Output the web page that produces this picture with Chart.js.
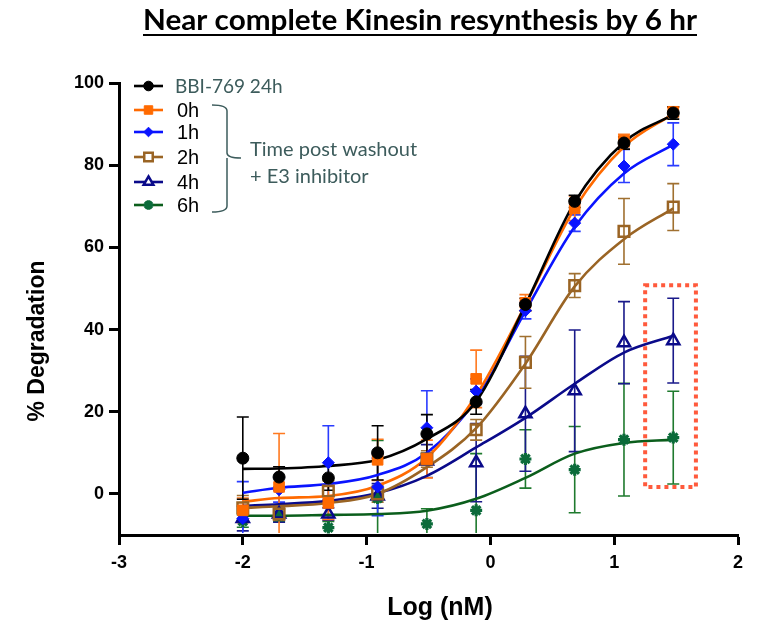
<!DOCTYPE html>
<html>
<head>
<meta charset="utf-8">
<script src="https://cdn.jsdelivr.net/npm/chart.js@4.4.1/dist/chart.umd.min.js"></script>
<style>
  html, body { margin: 0; padding: 0; background: #fff; }
</style>
</head>
<body>
<canvas id="degChart" width="764" height="630"></canvas>
<script>
// log10 of concentration (nM), 2.5-fold dilutions down from 30 nM
const logConc = [-2, -1.707, -1.309, -0.911, -0.513, -0.115, 0.283, 0.681, 1.079, 1.477];

const seriesNames = ['BBI-769 24h', '0h', '1h', '2h', '4h', '6h'];

// mean % degradation per dose
const deg24h = [8.7, 4.1, 3.9, 10.0, 14.6, 22.4, 46.1, 71.2, 85.4, 92.7];
const deg0h  = [-4.0, 1.7, -2.2, 8.3, 8.5, 28.0, 46.5, 69.5, 86.0, 93.0];
const deg1h  = [-6.0, 1.0, 7.6, 1.7, 16.1, 25.0, 44.6, 65.9, 79.8, 85.1];
const deg2h  = [-3.4, -4.9, 0.7, 0.0, 8.5, 15.6, 32.0, 50.7, 63.9, 69.8];
const deg4h  = [-6.0, -4.9, -4.9, -0.5, 8.0, 7.6, 19.5, 25.1, 36.8, 37.3];
const deg6h  = [-6.6, -5.2, -8.2, -1.0, -7.3, -4.0, 8.5, 5.9, 13.2, 13.7];

// error bar half-lengths
const err24h = [10, 2.5, 3, 6.6, 4.7, 3, 1.5, 1.5, 1.5, 1.5];
const err0h  = [3, 13, 4, 5, 4.6, 7, 2, 3, 1.5, 1.2];
const err1h  = [9, 3, 9, 7, 9, 3, 2, 2, 4, 5.2];
const err2h  = [3, 1.5, 2.5, 2, 2, 2.5, 6.3, 2.9, 8, 5.7];
const err4h  = [3, 2, 1.5, 3, 4, 9.5, 14, 14.8, 10, 10.3];
const err6h  = [1.5, 1.5, 1.5, 14, 3.7, 13.8, 7.1, 10.5, 13.7, 11.3];

// fitted dose-response curves, read at each dose
const fit24h = [6.1, 6.2, 6.8, 8.3, 13.4, 22.5, 46.0, 71.0, 85.6, 92.3];
const fit0h  = [-1.9, -1.0, -0.5, 2.0, 8.8, 24.0, 46.0, 69.5, 84.5, 92.5];
const fit1h  = [0.3, 1.5, 2.4, 4.6, 10.0, 23.0, 44.5, 65.0, 78.0, 85.0];
const fit2h  = [-3.4, -3.0, -2.2, 0.0, 6.5, 16.0, 31.7, 50.5, 62.0, 69.5];
const fit4h  = [-2.9, -2.5, -1.7, 0.2, 4.4, 11.3, 18.5, 26.8, 34.4, 38.5];
const fit6h  = [-5.3, -5.3, -5.1, -4.9, -4.1, -1.2, 3.9, 9.8, 12.4, 13.2];

const xTicks = [-3, -2, -1, 0, 1, 2];
const yTicks = [0, 20, 40, 60, 80, 100];

// highlighted region around the top dose (data units)
const boxX = [1.25, 1.66];
const boxY = [1.7, 50.8];

const means = [deg24h, deg0h, deg1h, deg2h, deg4h, deg6h];
const errs  = [err24h, err0h, err1h, err2h, err4h, err6h];
const fits  = [fit24h, fit0h, fit1h, fit2h, fit4h, fit6h];

const looks = [
  { color: '#000000', bar: '#000000', style: 'circle',   radius: 6,   fill: '#000000', bw: 1 },
  { color: '#ff6a00', bar: '#ff7a20', style: 'rect',     radius: 7.5, fill: '#ff6a00', bw: 1 },
  { color: '#0a14ff', bar: '#2a3cff', style: 'rectRot',  radius: 6,   fill: '#0a14ff', bw: 1 },
  { color: '#9a6424', bar: '#a07030', style: 'rect',     radius: 7.5, fill: 'rgba(255,255,255,0)', bw: 2.5 },
  { color: '#0a0a8a', bar: '#1a1a8a', style: 'triangle', radius: 7,   fill: 'rgba(255,255,255,0)', bw: 2.5 },
  { color: '#0b6b3a', bar: '#1f7a2e', style: 'star',     radius: 6,   fill: '#0b6b3a', bw: 3.2 }
];
const curveColors = ['#000000', '#ff6a00', '#0a14ff', '#9a6424', '#0a0a8a', '#0b5e1c'];

const toXY = ys => ys.map((v, i) => ({ x: logConc[i], y: v }));

const datasets = [];
seriesNames.forEach((name, k) => {
  datasets.push({
    label: name,
    data: toXY(means[k]),
    showLine: false,
    pointStyle: looks[k].style,
    pointRadius: looks[k].radius,
    pointBackgroundColor: looks[k].fill,
    pointBorderColor: looks[k].color,
    pointBorderWidth: looks[k].bw,
    order: 0,
    clip: false
  });
});
seriesNames.forEach((name, k) => {
  datasets.push({
    label: name + ' fit',
    data: toXY(fits[k]),
    showLine: true,
    borderColor: curveColors[k],
    borderWidth: 2.6,
    pointRadius: 0,
    cubicInterpolationMode: 'monotone',
    order: 1
  });
});

const errorBars = {
  id: 'errorBars',
  beforeDatasetsDraw(chart) {
    const { ctx, scales: { x, y }, chartArea } = chart;
    ctx.save();
    ctx.beginPath();
    ctx.rect(chartArea.left, chartArea.top - 10, chartArea.width, chartArea.height + 8);
    ctx.clip();
    ctx.lineWidth = 1.6;
    for (let k = means.length - 1; k >= 0; k--) {
      ctx.strokeStyle = looks[k].bar;
      means[k].forEach((m, i) => {
        const px = x.getPixelForValue(logConc[i]);
        const top = y.getPixelForValue(m + errs[k][i]);
        const bot = y.getPixelForValue(m - errs[k][i]);
        ctx.beginPath();
        ctx.moveTo(px, top); ctx.lineTo(px, bot);
        ctx.moveTo(px - 6, top); ctx.lineTo(px + 6, top);
        ctx.moveTo(px - 6, bot); ctx.lineTo(px + 6, bot);
        ctx.stroke();
      });
    }
    ctx.restore();
  }
};

const decorations = {
  id: 'decorations',
  afterDraw(chart) {
    const { ctx, scales: { x, y } } = chart;
    ctx.save();

    // title, underlined
    const title = 'Near complete Kinesin resynthesis by 6 hr';
    ctx.font = 'bold 28px Lato, "DejaVu Sans"';
    ctx.fillStyle = '#000';
    ctx.textAlign = 'center';
    ctx.textBaseline = 'alphabetic';
    const tw = ctx.measureText(title).width;
    ctx.save();
    ctx.translate(420, 30);
    ctx.scale(554 / tw, 1);
    ctx.fillText(title, 0, 0);
    ctx.restore();
    ctx.fillRect(143, 34, 554, 2);

    // axis titles
    ctx.textBaseline = 'middle';
    ctx.font = 'bold 25px "Liberation Sans", Arial, sans-serif';
    ctx.fillText('Log (nM)', 440, 608);
    ctx.font = 'bold 23px "Liberation Sans", Arial, sans-serif';
    ctx.save();
    ctx.translate(38, 341);
    ctx.rotate(-Math.PI / 2);
    ctx.fillText('% Degradation', 0, 0);
    ctx.restore();

    // legend
    const rowY = [86, 110, 132, 157, 182, 205];
    seriesNames.forEach((name, k) => {
      const yy = rowY[k];
      ctx.strokeStyle = curveColors[k];
      ctx.lineWidth = 2.6;
      ctx.beginPath();
      ctx.moveTo(134, yy); ctx.lineTo(163, yy);
      ctx.stroke();
      ctx.fillStyle = (k === 3 || k === 4) ? '#fff' : looks[k].fill;
      ctx.strokeStyle = looks[k].color;
      ctx.lineWidth = looks[k].bw;
      Chart.helpers.drawPoint(ctx, {
        pointStyle: looks[k].style,
        radius: looks[k].radius * 0.8,
        borderWidth: looks[k].bw,
        rotation: 0
      }, 148.5, yy);
      ctx.textAlign = 'left';
      ctx.textBaseline = 'middle';
      if (k === 0) {
        ctx.fillStyle = '#3d5c5c';
        ctx.font = '19px Lato, "Open Sans", sans-serif';
        ctx.fillText(name, 175, yy + 1);
      } else {
        ctx.fillStyle = '#000';
        ctx.font = '20px "Liberation Sans", Arial, sans-serif';
        ctx.fillText(name, 177, yy + 1);
      }
    });

    // bracket grouping the washout series
    ctx.strokeStyle = '#3d5c5c';
    ctx.lineWidth = 1.5;
    ctx.beginPath();
    ctx.moveTo(212, 105);
    ctx.quadraticCurveTo(227, 105, 227, 111);
    ctx.lineTo(227, 153);
    ctx.quadraticCurveTo(227, 158, 241, 158);
    ctx.moveTo(227, 158);
    ctx.quadraticCurveTo(227, 163, 227, 166);
    ctx.lineTo(227, 206);
    ctx.quadraticCurveTo(227, 212, 212, 212);
    ctx.stroke();
    ctx.fillStyle = '#3d5c5c';
    ctx.font = '20px Lato, "Open Sans", sans-serif';
    ctx.fillText('Time post washout', 250, 150);
    ctx.fillText('+ E3 inhibitor', 250, 177);

    // dotted highlight box
    ctx.strokeStyle = '#ff5a3c';
    ctx.lineWidth = 4;
    ctx.setLineDash([4, 4]);
    const bx0 = x.getPixelForValue(boxX[0]), bx1 = x.getPixelForValue(boxX[1]);
    const by0 = y.getPixelForValue(boxY[1]), by1 = y.getPixelForValue(boxY[0]);
    ctx.strokeRect(bx0, by0, bx1 - bx0, by1 - by0);
    ctx.restore();
  }
};

const tickFont = { family: '"Liberation Sans", Arial, sans-serif', size: 18, weight: 'bold' };

new Chart(document.getElementById('degChart'), {
  type: 'scatter',
  data: { datasets },
  options: {
    responsive: false,
    animation: false,
    layout: { padding: { left: 0, top: 83, right: 26, bottom: 0 } },
    plugins: { legend: { display: false }, tooltip: { enabled: false }, title: { display: false } },
    scales: {
      x: {
        type: 'linear', min: -3, max: 2,
        afterBuildTicks: s => { s.ticks = xTicks.map(v => ({ value: v })); },
        ticks: { color: '#000', font: tickFont, padding: 7 },
        grid: { drawOnChartArea: false, drawTicks: true, tickLength: 10, tickWidth: 3, color: '#000' },
        border: { display: true, width: 3, color: '#000' },
        afterFit: s => { s.height = 95; }
      },
      y: {
        type: 'linear', min: -10, max: 100,
        afterBuildTicks: s => { s.ticks = yTicks.map(v => ({ value: v })); },
        ticks: { color: '#000', font: tickFont, padding: 5 },
        grid: { drawOnChartArea: false, drawTicks: true, tickLength: 10, tickWidth: 3, color: '#000' },
        border: { display: true, width: 3, color: '#000' },
        afterFit: s => { s.width = 119; }
      }
    }
  },
  plugins: [errorBars, decorations]
});
</script>
</body>
</html>
